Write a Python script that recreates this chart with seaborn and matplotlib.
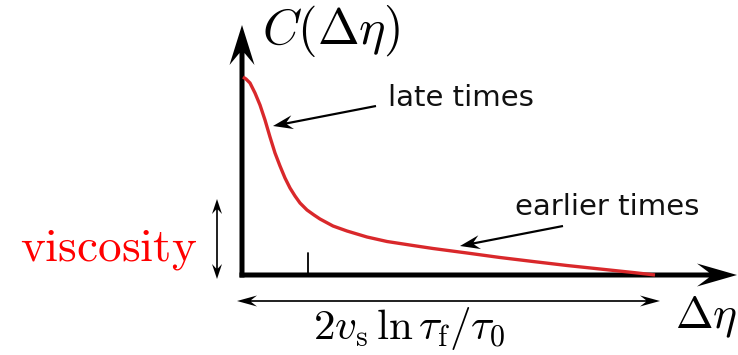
import matplotlib
matplotlib.use("Agg")
import matplotlib.pyplot as plt
import seaborn as sns
import pandas as pd

# Correlation curve C(Δη): coordinates in drawing units (origin at the axes corner)
delta_eta = [1, 4, 8, 13, 18, 23, 28, 33, 38, 43, 48, 53, 58, 65, 72, 78, 91,
             105, 125, 145, 171, 191, 225, 258, 291, 325, 358, 391, 413]
corr = [198, 196, 192, 182, 170, 155, 138, 122, 109, 97, 87, 79, 72, 65, 60, 56, 49,
        44, 38, 33.5, 29.5, 26.5, 22, 17.5, 13.5, 9.5, 6, 2.5, 0]

# Annotation texts
y_label = r"$C(\Delta\eta)$"
x_label = r"$\Delta\eta$"
width_label = r"$2v_\mathrm{s}\,\ln\tau_\mathrm{f}/\tau_0$"
visc_label = r"$\mathrm{viscosity}$"
late_label = "late times"
early_label = "earlier times"

sns.set_theme(style="white")
plt.rcParams["mathtext.fontset"] = "cm"
plt.rcParams["font.family"] = ["DejaVu Sans"]

fig = plt.figure(figsize=(7.38, 3.55), dpi=100)
ax = fig.add_axes([0, 0, 1, 1])
ax.set_xlim(-242, 496)
ax.set_ylim(-80, 275)
ax.set_axis_off()

df = pd.DataFrame({"deta": delta_eta, "C": corr})
sns.lineplot(data=df, x="deta", y="C", ax=ax, color="#d9282b", lw=2.4,
             sort=False, zorder=5, solid_capstyle="butt", solid_joinstyle="round")

# Coordinate axes with arrowheads
ax.arrow(-2.5, 0, 497.5, 0, width=5, head_width=23, head_length=40,
         overhang=0.3, length_includes_head=True, color="black", lw=0, zorder=4)
ax.arrow(0, -2.5, 0, 252.5, width=5, head_width=25, head_length=40,
         overhang=0.3, length_includes_head=True, color="black", lw=0, zorder=4)

# Tick on the Δη axis
ax.plot([66, 66], [0, 22], color="black", lw=1.3, zorder=3)

def thin_arrow(x0, y0, x1, y1, hl, hw, w=1.7):
    ax.arrow(x0, y0, x1 - x0, y1 - y0, width=w, head_width=hw, head_length=hl,
             overhang=0.3, length_includes_head=True, color="black", lw=0, zorder=4)

# Pointers to the two regimes
thin_arrow(134, 169, 31, 149, 20, 14, 2.2)
thin_arrow(321, 49, 218, 29, 20, 14, 2.2)

# Double arrow: viscosity height
mid = 36
thin_arrow(-25, mid, -25, 76, 15, 10)
thin_arrow(-25, mid, -25, -4, 15, 10)

# Double arrow: width along Δη
midx = 206
thin_arrow(midx, -26, 418, -26, 20, 11)
thin_arrow(midx, -26, -5, -26, 20, 11)

ax.text(20, 231, y_label, fontsize=36, ha="left", va="baseline", color="black")
ax.text(433, -53, x_label, fontsize=32.5, ha="left", va="baseline", color="black")
ax.text(71, -64, width_label, fontsize=31, ha="left", va="baseline", color="black")
ax.text(-222, 15, visc_label, fontsize=34, ha="left", va="baseline", color="#ff0000")
ax.text(146, 169, late_label, fontsize=21, ha="left", va="baseline", color="#111111")
ax.text(273, 60, early_label, fontsize=21, ha="left", va="baseline", color="#111111")

fig.savefig("out.png", dpi=100)
